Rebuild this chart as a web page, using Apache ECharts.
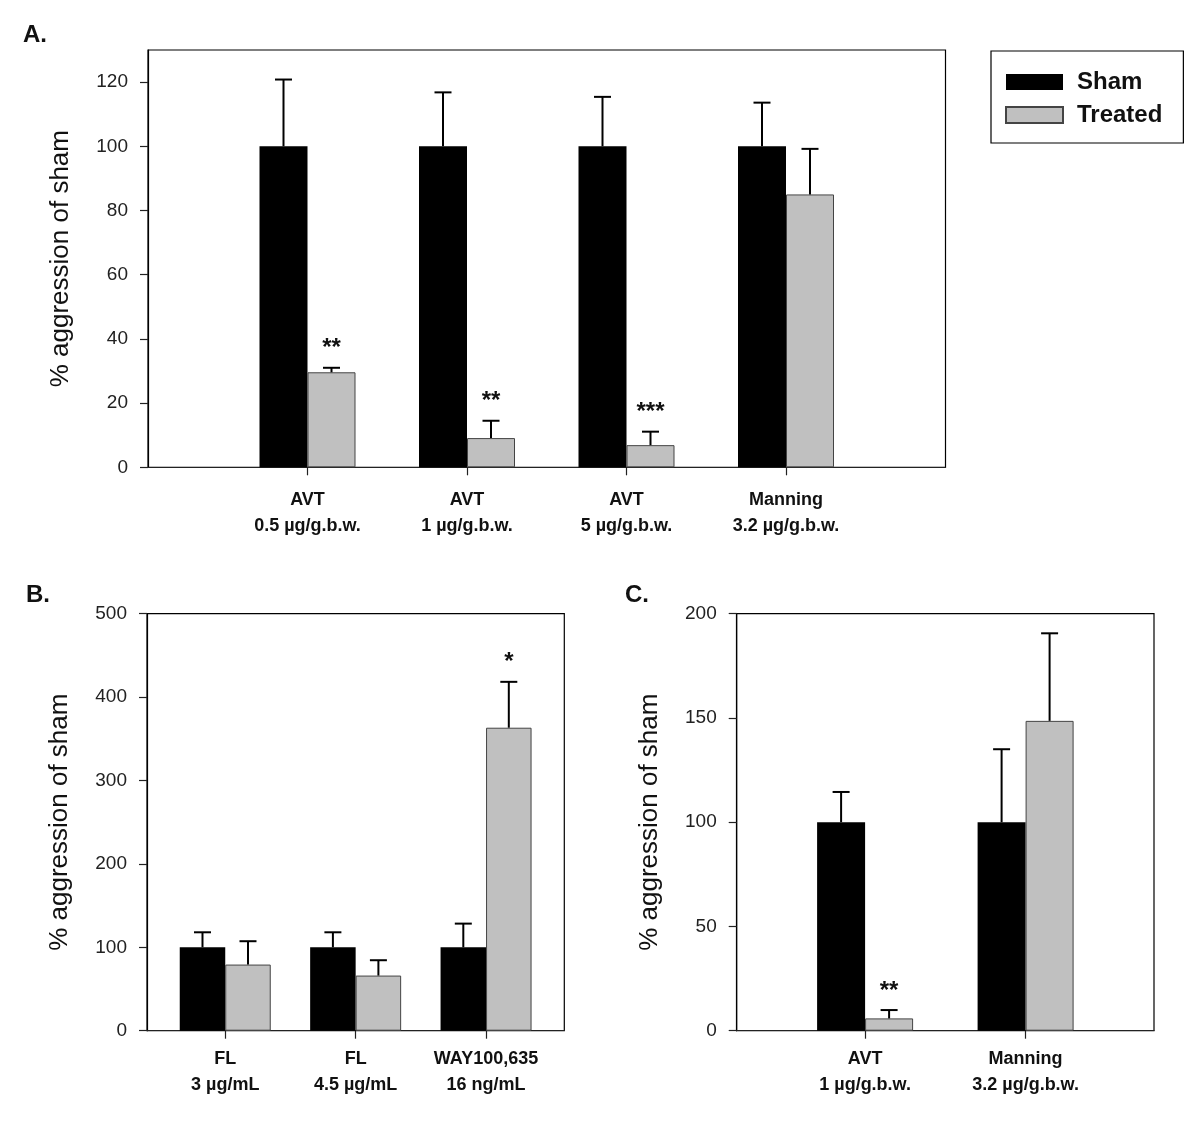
<!DOCTYPE html>
<html><head><meta charset="utf-8">
<script src="https://cdn.jsdelivr.net/npm/echarts@6/dist/echarts.min.js"></script>
<style>html,body{margin:0;padding:0;background:#fff}#c{width:1200px;height:1133px}</style>
</head><body><div id="c"></div>
<script>
// ---- Panel A ----
const categoriesA = ['AVT\n0.5 µg/g.b.w.', 'AVT\n1 µg/g.b.w.', 'AVT\n5 µg/g.b.w.', 'Manning\n3.2 µg/g.b.w.'];
const shamA = [100, 100, 100, 100];
const shamErrA = [20.8, 16.8, 15.4, 13.6];
const treatedA = [29.6, 9.1, 6.9, 85.0];
const treatedErrA = [1.4, 5.4, 4.2, 14.2];
const sigA = ['**', '**', '***', ''];
const yTicksA = [0, 20, 40, 60, 80, 100, 120];

// ---- Panel B ----
const categoriesB = ['FL\n3 µg/mL', 'FL\n4.5 µg/mL', 'WAY100,635\n16 ng/mL'];
const shamB = [100, 100, 100];
const shamErrB = [18.0, 18.0, 28.4];
const treatedB = [79.3, 66.1, 363.3];
const treatedErrB = [28.0, 18.4, 55.0];
const sigB = ['', '', '*'];
const yTicksB = [0, 100, 200, 300, 400, 500];

// ---- Panel C ----
const categoriesC = ['AVT\n1 µg/g.b.w.', 'Manning\n3.2 µg/g.b.w.'];
const shamC = [100, 100];
const shamErrC = [14.5, 35.0];
const treatedC = [5.9, 148.6];
const treatedErrC = [4.0, 42.0];
const sigC = ['**', ''];
const yTicksC = [0, 50, 100, 150, 200];

const seriesNames = ['Sham', 'Treated'];
const yTitle = '% aggression of sham';

const FONT = "'Liberation Sans', Arial, sans-serif";

const panels = [
  { cats: categoriesA, sham: shamA, shamErr: shamErrA, treated: treatedA, treatedErr: treatedErrA, sig: sigA, yTicks: yTicksA,
    yMax: 130, xMin: 0, xMax: 5, grid: { left: 148, top: 50, width: 797.5, height: 417.3 }, barW: 48, labelMargin: 20 },
  { cats: categoriesB, sham: shamB, shamErr: shamErrB, treated: treatedB, treatedErr: treatedErrB, sig: sigB, yTicks: yTicksB,
    yMax: 500, xMin: 0.4, xMax: 3.6, grid: { left: 147, top: 613.7, width: 417.3, height: 417 }, barW: 45.5, labelMargin: 15 },
  { cats: categoriesC, sham: shamC, shamErr: shamErrC, treated: treatedC, treatedErr: treatedErrC, sig: sigC, yTicks: yTicksC,
    yMax: 200, xMin: 0.2, xMax: 2.8, grid: { left: 736.7, top: 613.7, width: 417.3, height: 417 }, barW: 48, labelMargin: 15 }
];

const grids = [], xAxes = [], yAxes = [], series = [];
panels.forEach((p, i) => {
  const pos = p.cats.map((c, j) => j + 1);
  grids.push(Object.assign({ show: true, borderColor: '#000', borderWidth: 1.2, backgroundColor: 'transparent' }, p.grid));
  xAxes.push({
    type: 'value', gridIndex: i, min: p.xMin, max: p.xMax,
    axisLine: { show: true, onZero: false, lineStyle: { color: '#222', width: 1.2 } },
    axisTick: { show: true, inside: false, length: 8, customValues: pos, lineStyle: { color: '#222', width: 1.2 } },
    axisLabel: { customValues: pos, formatter: v => p.cats[Math.round(v) - 1] || '', fontSize: 18, fontWeight: 'bold',
      lineHeight: 26, color: '#111', margin: p.labelMargin, fontFamily: FONT },
    splitLine: { show: false }
  });
  yAxes.push({
    type: 'value', gridIndex: i, min: 0, max: p.yMax,
    axisLine: { show: true, lineStyle: { color: '#000', width: 1.2 } },
    axisTick: { show: true, inside: false, length: 8, customValues: p.yTicks, lineStyle: { color: '#222', width: 1.2 } },
    axisLabel: { customValues: p.yTicks, fontSize: 19, color: '#222', margin: 20, fontFamily: FONT },
    splitLine: { show: false },
    name: yTitle, nameLocation: 'middle', nameGap: 74,
    nameTextStyle: { fontSize: 26, color: '#111', fontFamily: FONT }
  });
  series.push({
    type: 'bar', name: seriesNames[0], xAxisIndex: i, yAxisIndex: i, silent: true,
    data: p.sham.map((v, j) => [pos[j], v]), barWidth: p.barW, barGap: '0%',
    itemStyle: { color: '#000' }
  });
  series.push({
    type: 'bar', name: seriesNames[1], xAxisIndex: i, yAxisIndex: i, silent: true,
    data: p.treated.map((v, j) => [pos[j], v]), barWidth: p.barW, barGap: '0%',
    itemStyle: { color: '#c0c0c0', borderColor: '#444', borderWidth: 1 }
  });
  series.push({
    type: 'custom', xAxisIndex: i, yAxisIndex: i, silent: true, z: 5,
    data: p.sham.map((v, j) => [pos[j], v, p.shamErr[j], p.treated[j], p.treatedErr[j]]),
    renderItem: (params, api) => {
      const x = api.value(0);
      const pairs = [[-1, api.value(1), api.value(2)], [1, api.value(3), api.value(4)]];
      const children = [];
      const capHalf = 8.5;
      pairs.forEach(([side, m, e]) => {
        const base = api.coord([x, m]);
        const top = api.coord([x, m + e]);
        const cx = base[0] + side * p.barW / 2;
        children.push({ type: 'line', shape: { x1: cx, y1: base[1], x2: cx, y2: top[1] }, style: { stroke: '#000', lineWidth: 2 } });
        children.push({ type: 'line', shape: { x1: cx - capHalf, y1: top[1], x2: cx + capHalf, y2: top[1] }, style: { stroke: '#000', lineWidth: 2 } });
        if (side === 1) {
          const s = p.sig[params.dataIndex];
          if (s) children.push({ type: 'text', style: { text: s, x: cx, y: top[1] - 19, align: 'center', verticalAlign: 'middle',
            fontSize: 24, fontWeight: 'bold', fill: '#111', fontFamily: FONT } });
        }
      });
      return { type: 'group', children };
    }
  });
});

const chart = echarts.init(document.getElementById('c'), null, { renderer: 'canvas' });
chart.setOption({
  animation: false,
  backgroundColor: '#fff',
  title: [
    { text: 'A.', left: 23, top: 23, padding: 0, textStyle: { fontSize: 24, fontWeight: 'bold', color: '#111', fontFamily: FONT } },
    { text: 'B.', left: 26, top: 583, padding: 0, textStyle: { fontSize: 24, fontWeight: 'bold', color: '#111', fontFamily: FONT } },
    { text: 'C.', left: 625, top: 583, padding: 0, textStyle: { fontSize: 24, fontWeight: 'bold', color: '#111', fontFamily: FONT } }
  ],
  legend: {
    data: seriesNames, orient: 'vertical', left: 991, top: 51, selectedMode: false,
    icon: 'rect', itemWidth: 57, itemHeight: 16, itemGap: 9,
    padding: [19, 21, 16, 14], borderColor: '#000', borderWidth: 1.2,
    textStyle: { fontSize: 24, fontWeight: 'bold', color: '#111', fontFamily: FONT, padding: [0, 0, 0, 9] }
  },
  grid: grids, xAxis: xAxes, yAxis: yAxes, series
});
</script></body></html>
